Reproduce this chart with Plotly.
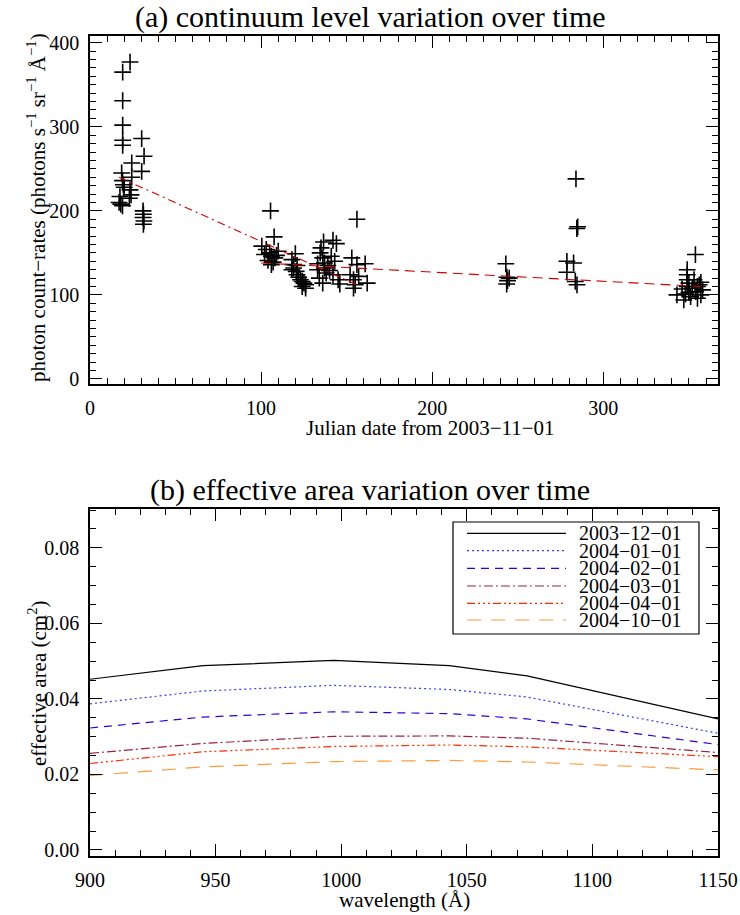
import plotly.graph_objects as go

# ---------------- data: panel (a) ----------------
days = [23.4, 19.1, 19.1, 19.1, 19.1, 19.1, 30.2, 31.6, 24.4, 30.2, 18.5, 24.4, 19.0, 19.5, 20.0,
        23.4, 24.0, 23.0, 17.5, 17.0, 18.0, 19.0, 31.0, 31.2, 31.0, 31.5, 31.2,
        105.5, 107.6, 100.4, 103, 105, 106, 108, 110, 104, 107, 109, 106, 102,
        120, 118, 119, 119, 120.5, 121, 122, 123, 124, 125, 126, 126, 124, 118, 121,
        136.5, 142, 144, 134.5, 141, 137, 133, 138, 142, 136, 145, 146, 135, 139, 140, 134, 137, 143, 136, 133,
        153, 156, 156, 160.8, 162, 154, 154, 152, 157, 155,
        243, 243.6, 244, 245, 243.5,
        284, 285, 284.5, 278.7, 282.6, 278.7, 283.6, 284.6,
        353.8, 349, 349, 349, 349, 343, 347, 350, 352, 354, 356, 357, 351, 355, 358, 353, 355, 350, 357, 346, 348]
rates = [377, 365, 331, 302, 284, 278, 286, 265, 257, 247, 245, 240, 236, 231, 228,
         225, 219, 215, 217, 210, 208, 206, 200, 196, 192, 188, 184,
         200, 169, 158, 154, 150, 146, 144, 152, 141, 139, 147, 136, 148,
         149, 142, 136, 132, 128, 124, 121, 118, 116, 114, 112, 108, 110, 130, 135,
         163, 165, 161, 150, 146, 138, 130, 126, 124, 114, 118, 113, 156, 135, 129, 120, 132, 140, 144, 137,
         144, 190, 136, 137, 114, 118, 108, 124, 122, 112,
         137, 121, 117, 120, 113,
         238, 181, 179, 140, 138, 127, 116, 112,
         148, 130, 124, 118, 110, 100, 94, 114, 108, 104, 112, 100, 98, 96, 106, 118, 110, 103, 115, 107, 101]

fit1_days = [17, 156]
fit1_rates = [240, 112]
fit2_days = [100, 357]
fit2_rates = [138, 110]

# ---------------- data: panel (b) ----------------
wavelength = [900, 945, 997, 1043, 1074, 1150]
series_names = ["2003−12−01", "2004−01−01", "2004−02−01", "2004−03−01", "2004−04−01", "2004−10−01"]
area_1203 = [0.0452, 0.0488, 0.0502, 0.0488, 0.0461, 0.0347]
area_0401 = [0.0387, 0.0421, 0.0436, 0.0425, 0.0405, 0.0309]
area_0402 = [0.0323, 0.0352, 0.0366, 0.0361, 0.0347, 0.0279]
area_0403 = [0.0256, 0.0282, 0.0301, 0.0302, 0.0296, 0.0258]
area_0404 = [0.0229, 0.0260, 0.0274, 0.0278, 0.0273, 0.0247]
area_0410 = [0.0197, 0.0220, 0.0234, 0.0237, 0.0233, 0.0212]
area_series = [area_1203, area_0401, area_0402, area_0403, area_0404, area_0410]
colors = ["#000000", "#3a3aee", "#3300cc", "#992244", "#ff2a00", "#ff9a3a"]
dashes = ["solid", "2px,3px", "8px,6px", "9px,3px,2px,3px", "8px,3px,2px,3px,2px,3px,2px,3px", "14px,10px"]

FONT = "Liberation Serif"
fig = go.Figure()

fig.add_trace(go.Scatter(x=days, y=rates, mode="markers", xaxis="x", yaxis="y",
                         marker=dict(symbol="cross-thin", size=12, line=dict(width=1.6, color="black"), color="black"),
                         showlegend=False))
fig.add_trace(go.Scatter(x=fit1_days, y=fit1_rates, mode="lines", xaxis="x", yaxis="y",
                         line=dict(color="#d00000", width=1.1, dash="8px,4px,2px,4px"), showlegend=False))
fig.add_trace(go.Scatter(x=fit2_days, y=fit2_rates, mode="lines", xaxis="x", yaxis="y",
                         line=dict(color="#d00000", width=1.1, dash="10px,6px"), showlegend=False))

for name, vals, c, d in zip(series_names, area_series, colors, dashes):
    fig.add_trace(go.Scatter(x=wavelength, y=vals, mode="lines", xaxis="x2", yaxis="y2", name=name,
                             line=dict(color=c, width=1.2, dash=d), showlegend=False))

axis_common = dict(showline=True, linecolor="black", linewidth=1.5, mirror="ticks", ticks="inside",
                   ticklen=12, tickwidth=1, tickcolor="black", showgrid=False, zeroline=False,
                   automargin=False, tickfont=dict(family=FONT, size=20, color="black"))

fig.update_layout(
    template="none",
    width=740, height=915, plot_bgcolor="white", paper_bgcolor="white",
    margin=dict(l=90, r=22, t=36, b=59, pad=0),
    font=dict(family=FONT, size=20, color="black"),
    xaxis=dict(domain=[0, 1], anchor="y", range=[0, 367], dtick=100, tick0=0, ticklabelstandoff=5,
               minor=dict(dtick=10, ticks="inside", ticklen=6, tickcolor="black"), **axis_common),
    yaxis=dict(domain=[0.5756, 1], anchor="x", range=[-6, 408], dtick=100, tick0=0, ticklabelstandoff=5,
               minor=dict(dtick=10, ticks="inside", ticklen=6, tickcolor="black"), **axis_common),
    xaxis2=dict(domain=[0, 1], anchor="y2", range=[900, 1150], dtick=50, tick0=900, ticklabelstandoff=5,
                minor=dict(dtick=10, ticks="inside", ticklen=6, tickcolor="black"), **axis_common),
    yaxis2=dict(domain=[0, 0.4232], anchor="x2", range=[-0.0016, 0.0903], dtick=0.02, tick0=0,
                tickformat=".2f", ticklabelstandoff=5,
                minor=dict(dtick=0.005, ticks="inside", ticklen=6, tickcolor="black"), **axis_common),
)

def px_x(px):
    return (px - 90) / 628.0

def px_y(py):
    return (856 - py) / 820.0

def label(text, x, y, size, angle=0, xanchor="center"):
    return dict(text=text, x=px_x(x), y=px_y(y), xref="paper", yref="paper", showarrow=False,
                xanchor=xanchor, yanchor="middle", textangle=angle,
                font=dict(family=FONT, size=size, color="black"))

ann = [
    label("(a) continuum level variation over time", 370, 17, 30),
    label("(b) effective area variation over time", 370, 490, 30),
    label("Julian date from 2003−11−01", 430, 428, 21),
    label("wavelength (Å)", 404, 900, 21),
    label("photon count−rates (photons s<sup>−1</sup> sr<sup>−1</sup> Å<sup>−1</sup>)", 37, 208, 21, -90),
    label("effective area (cm<sup>2</sup>)", 37, 683, 21, -90),
]

shapes = [dict(type="rect", xref="paper", yref="paper", x0=px_x(453), x1=px_x(699),
               y0=px_y(634), y1=px_y(522), line=dict(color="black", width=1.2), fillcolor="white",
               layer="above")]
row_y = [533.3, 550.7, 568.3, 586, 603.3, 620]
for name, c, d, ry in zip(series_names, colors, dashes, row_y):
    shapes.append(dict(type="line", xref="paper", yref="paper", x0=px_x(467), x1=px_x(566),
                       y0=px_y(ry), y1=px_y(ry), line=dict(color=c, width=1.2, dash=d), layer="above"))
    ann.append(label(name, 577, ry, 20, xanchor="left"))

fig.update_layout(annotations=ann, shapes=shapes)
# remove the page's default body margin so the figure sits at the window's top-left corner
fig.write_html("out.html", config={"displayModeBar": False},
               post_script="document.body.style.margin='0';document.body.style.overflow='hidden';")
